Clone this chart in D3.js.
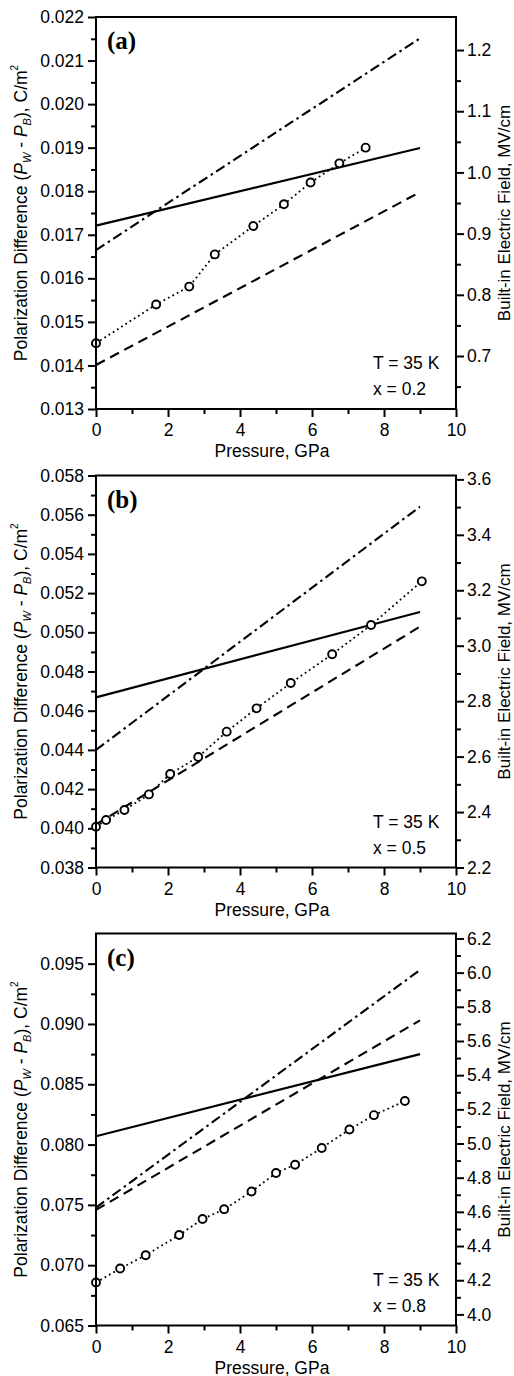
<!DOCTYPE html>
<html>
<head>
<meta charset="utf-8">
<script src="https://cdn.jsdelivr.net/npm/d3@7"></script>
<style>
  body { margin: 0; background: #fff; }
  svg { display: block; font-family: "Liberation Sans", Arial, Helvetica, sans-serif; }
</style>
</head>
<body>
<svg id="chart" width="514" height="1376"></svg>
<script>
// shared pressure axis, GPa
const pressureTicks = [0, 2, 4, 6, 8, 10];
const pressureMinor = [1, 3, 5, 7, 9];
const fitPressure = [0, 9];

const panelNames = ["(a)", "(b)", "(c)"];
const compositions = ["0.2", "0.5", "0.8"];

// left axis: polarization difference, C/m^2
const polDomains = [[0.013, 0.022], [0.038, 0.058], [0.065, 0.0975]];
const polTicks = [
  [0.013, 0.014, 0.015, 0.016, 0.017, 0.018, 0.019, 0.020, 0.021, 0.022],
  [0.038, 0.040, 0.042, 0.044, 0.046, 0.048, 0.050, 0.052, 0.054, 0.056, 0.058],
  [0.065, 0.070, 0.075, 0.080, 0.085, 0.090, 0.095],
];
const polMinor = [
  [0.0135, 0.0145, 0.0155, 0.0165, 0.0175, 0.0185, 0.0195, 0.0205, 0.0215],
  [0.039, 0.041, 0.043, 0.045, 0.047, 0.049, 0.051, 0.053, 0.055, 0.057],
  [0.0675, 0.0725, 0.0775, 0.0825, 0.0875, 0.0925],
];

// right axis: built-in electric field, MV/cm
const fieldDomains = [[0.6134, 1.254], [2.2, 3.614], [3.935, 6.229]];
const fieldTicks = [
  [0.7, 0.8, 0.9, 1.0, 1.1, 1.2],
  [2.2, 2.4, 2.6, 2.8, 3.0, 3.2, 3.4, 3.6],
  [4.0, 4.2, 4.4, 4.6, 4.8, 5.0, 5.2, 5.4, 5.6, 5.8, 6.0, 6.2],
];
const fieldMinor = [
  [0.65, 0.75, 0.85, 0.95, 1.05, 1.15],
  [2.3, 2.5, 2.7, 2.9, 3.1, 3.3, 3.5],
  [4.1, 4.3, 4.5, 4.7, 4.9, 5.1, 5.3, 5.5, 5.7, 5.9, 6.1],
];

// straight fit lines, value at P = 0 and P = 9
const solidFits = [[0.01721, 0.01899], [0.04668, 0.05104], [0.08069, 0.08750]];
const dashDotFits = [[0.01665, 0.02151], [0.04400, 0.05641], [0.07478, 0.09448]];
const dashedFits = [[0.01401, 0.01798], [0.04020, 0.05029], [0.07458, 0.09030]];

// measured points
const pressureA = [0, 1.67, 2.59, 3.30, 4.37, 5.22, 5.96, 6.76, 7.49];
const polA = [0.01451, 0.01540, 0.01581, 0.01655, 0.01720, 0.01770, 0.01820, 0.01864, 0.01900];
const pressureB = [0, 0.28, 0.79, 1.47, 2.06, 2.84, 3.63, 4.46, 5.41, 6.56, 7.64, 9.05];
const polB = [0.04008, 0.04042, 0.04093, 0.04173, 0.04277, 0.04364, 0.04493, 0.04612, 0.04741, 0.04888, 0.05037, 0.05260];
const pressureC = [0, 0.67, 1.38, 2.31, 2.96, 3.56, 4.32, 5.0, 5.53, 6.27, 7.04, 7.72, 8.58];
const polC = [0.06856, 0.06972, 0.07083, 0.0725, 0.07383, 0.07464, 0.07611, 0.07764, 0.07833, 0.07972, 0.08125, 0.08244, 0.08361];
const pointPressures = [pressureA, pressureB, pressureC];
const pointPols = [polA, polB, polC];

const svg = d3.select("#chart");
const left = 96, right = 456, plotH = 392;
const tops = [17, 475.5, 933.5];
const fontSize = 17.5;

const x = d3.scaleLinear().domain([0, 10]).range([left, right]);

panelNames.forEach((name, i) => {
  const top = tops[i], bottom = top + plotH;
  const y = d3.scaleLinear().domain(polDomains[i]).range([bottom, top]);
  const y2 = d3.scaleLinear().domain(fieldDomains[i]).range([bottom, top]);
  const g = svg.append("g").attr("class", "panel");

  const styleAxis = (ax) => {
    ax.select(".domain").remove();
    ax.selectAll(".tick line").attr("stroke", "#000").attr("stroke-width", 2);
    ax.selectAll(".tick text").attr("font-size", fontSize).attr("fill", "#000");
    ax.attr("font-family", null);
  };

  // axes
  g.append("g").attr("transform", `translate(0,${bottom})`)
    .call(d3.axisBottom(x).tickValues(pressureTicks).tickSize(8).tickPadding(7).tickFormat(d3.format("d")))
    .call(styleAxis);
  g.append("g").attr("transform", `translate(0,${bottom})`)
    .call(d3.axisBottom(x).tickValues(pressureMinor).tickSize(5).tickFormat(""))
    .call(styleAxis);
  g.append("g").attr("transform", `translate(${left},0)`)
    .call(d3.axisLeft(y).tickValues(polTicks[i]).tickSize(8).tickPadding(4).tickFormat(d3.format(".3f")))
    .call(styleAxis);
  g.append("g").attr("transform", `translate(${left},0)`)
    .call(d3.axisLeft(y).tickValues(polMinor[i]).tickSize(5).tickFormat(""))
    .call(styleAxis);
  g.append("g").attr("transform", `translate(${right},0)`)
    .call(d3.axisRight(y2).tickValues(fieldTicks[i]).tickSize(8).tickPadding(3).tickFormat(d3.format(".1f")))
    .call(styleAxis);
  g.append("g").attr("transform", `translate(${right},0)`)
    .call(d3.axisRight(y2).tickValues(fieldMinor[i]).tickSize(5).tickFormat(""))
    .call(styleAxis);

  // fit lines
  const line = d3.line().x((d) => x(d[0])).y((d) => y(d[1]));
  const fits = [
    [solidFits[i], null],
    [dashDotFits[i], "10,4,2.5,4"],
    [dashedFits[i], "10,6"],
  ];
  fits.forEach(([vals, dash]) => {
    g.append("path")
      .datum(fitPressure.map((p, k) => [p, vals[k]]))
      .attr("d", line)
      .attr("fill", "none")
      .attr("stroke", "#000")
      .attr("stroke-width", 2.1)
      .attr("stroke-dasharray", dash);
  });

  // measured points, dotted connector
  const pts = pointPressures[i].map((p, k) => [p, pointPols[i][k]]);
  g.append("path")
    .datum(pts)
    .attr("d", line)
    .attr("fill", "none")
    .attr("stroke", "#000")
    .attr("stroke-width", 1.8)
    .attr("stroke-dasharray", "1.8,3.2");
  g.selectAll("circle.pt")
    .data(pts)
    .join("circle")
    .attr("class", "pt")
    .attr("cx", (d) => x(d[0]))
    .attr("cy", (d) => y(d[1]))
    .attr("r", 4)
    .attr("fill", "#fff")
    .attr("stroke", "#000")
    .attr("stroke-width", 1.9);

  // frame
  g.append("rect")
    .attr("x", left).attr("y", top)
    .attr("width", right - left).attr("height", plotH)
    .attr("fill", "none").attr("stroke", "#000").attr("stroke-width", 2);

  // panel letter and conditions
  g.append("text")
    .attr("x", left + 11).attr("y", top + 32)
    .attr("font-family", "'Liberation Serif', 'Times New Roman', serif")
    .attr("font-size", 25).attr("font-weight", "bold")
    .text(name);
  g.append("text")
    .attr("x", 373).attr("y", bottom - 40)
    .attr("font-size", fontSize)
    .text("T = 35 K");
  g.append("text")
    .attr("x", 373).attr("y", bottom - 14)
    .attr("font-size", fontSize)
    .text(`x = ${compositions[i]}`);

  // axis titles
  g.append("text")
    .attr("x", 272).attr("y", bottom + 48)
    .attr("text-anchor", "middle")
    .attr("font-size", fontSize)
    .text("Pressure, GPa");

  const yt = g.append("text")
    .attr("transform", `translate(26.5,${(top + bottom) / 2}) rotate(-90)`)
    .attr("text-anchor", "middle")
    .attr("font-size", fontSize);
  yt.append("tspan").text("Polarization Difference (");
  yt.append("tspan").attr("font-style", "italic").text("P");
  yt.append("tspan").attr("font-style", "italic").attr("font-size", 11).attr("dy", 4).text("W");
  yt.append("tspan").attr("dy", -4).text(" - ");
  yt.append("tspan").attr("font-style", "italic").text("P");
  yt.append("tspan").attr("font-style", "italic").attr("font-size", 11).attr("dy", 4).text("B");
  yt.append("tspan").attr("dy", -4).text("), C/m");
  yt.append("tspan").attr("font-size", 10).attr("dy", -9).text("2");

  g.append("text")
    .attr("transform", `translate(509.5,${(top + bottom) / 2}) rotate(-90)`)
    .attr("text-anchor", "middle")
    .attr("font-size", 17)
    .text("Built-in Electric Field, MV/cm");
});
</script>
</body>
</html>
